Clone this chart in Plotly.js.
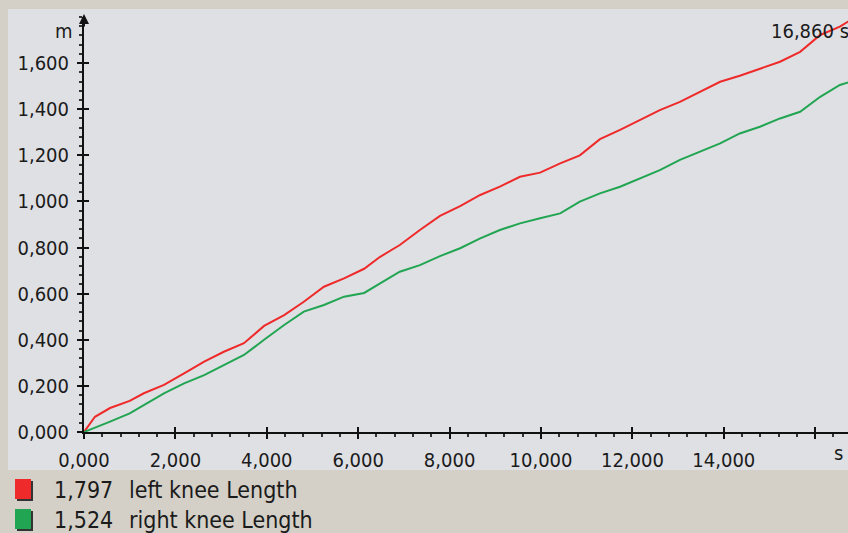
<!DOCTYPE html>
<html>
<head>
<meta charset="utf-8">
<script src="https://cdn.plot.ly/plotly-3.0.1.min.js"></script>
<style>
  html, body { margin: 0; padding: 0; background: #d4d0c8; }
  #chart { width: 848px; height: 533px; }
</style>
</head>
<body>
<div id="chart"></div>
<script>
// ---- data (time in s, length in m) ----
const timeS = [0, 0.24, 0.57, 1.0, 1.31, 1.75, 2.19, 2.63, 3.06, 3.5, 3.94, 4.38, 4.81, 5.25, 5.69, 6.13,
  6.48, 6.91, 7.35, 7.79, 8.23, 8.67, 9.10, 9.54, 9.98, 10.42, 10.85, 11.29, 11.73, 12.17, 12.60,
  13.04, 13.48, 13.92, 14.35, 14.79, 15.23, 15.67, 16.11, 16.54, 16.86];
const leftKnee = [0, 0.066, 0.104, 0.135, 0.168, 0.204, 0.254, 0.305, 0.348, 0.385, 0.460, 0.507, 0.565, 0.630, 0.666, 0.708,
  0.760, 0.811, 0.876, 0.937, 0.980, 1.028, 1.064, 1.107, 1.125, 1.165, 1.200, 1.270, 1.310, 1.353, 1.396,
  1.432, 1.476, 1.519, 1.545, 1.577, 1.606, 1.649, 1.722, 1.758, 1.797];
const rightKnee = [0, 0.018, 0.045, 0.081, 0.117, 0.168, 0.211, 0.247, 0.290, 0.334, 0.400, 0.464, 0.522, 0.551, 0.587, 0.603,
  0.645, 0.695, 0.724, 0.763, 0.797, 0.840, 0.876, 0.905, 0.927, 0.948, 0.999, 1.035, 1.064, 1.100, 1.136,
  1.180, 1.215, 1.252, 1.295, 1.324, 1.360, 1.389, 1.454, 1.505, 1.524];
const seriesNames = ["left knee Length", "right knee Length"];
const seriesFinal = ["1,797", "1,524"];
const seriesColors = ["#ee2a2a", "#22a552"];
const xTickVals = [0, 2, 4, 6, 8, 10, 12, 14, 16];
const xTickText = ["0,000", "2,000", "4,000", "6,000", "8,000", "10,000", "12,000", "14,000", ""];
const yTickVals = [0, 0.2, 0.4, 0.6, 0.8, 1.0, 1.2, 1.4, 1.6];
const xUnit = "s";
const yUnit = "m";
const endLabel = "16,860 s";

// ---- geometry ----
const W = 848, H = 533;
const M = { l: 84, r: 0, t: 17, b: 101 };
const PW = W - M.l - M.r, PH = H - M.t - M.b;
const px2x = px => (px - M.l) / PW;
const py2y = py => (H - M.b - py) / PH;

const FONT = "DejaVu Sans Condensed, DejaVu Sans, sans-serif";
const TXT = "#1b1b1b";

const traces = [
  { x: timeS, y: leftKnee, type: "scatter", mode: "lines", line: { color: seriesColors[0], width: 2 }, name: seriesNames[0], hoverinfo: "skip" },
  { x: timeS, y: rightKnee, type: "scatter", mode: "lines", line: { color: seriesColors[1], width: 2 }, name: seriesNames[1], hoverinfo: "skip" },
  { x: [], y: [], xaxis: "x2", yaxis: "y2", type: "scatter", mode: "lines", showlegend: false }
];

const xRange = [0, PW / 45.7];
const yRange = [0, 1.80];

const shapes = [
  { type: "rect", xref: "paper", yref: "paper", x0: px2x(8), x1: 1, y0: py2y(470), y1: py2y(9),
    fillcolor: "#dfe0e4", line: { width: 0 }, layer: "below" }
];
const annotations = [
  { xref: "paper", yref: "paper", x: px2x(75), y: py2y(31), xanchor: "right", yanchor: "middle",
    text: yUnit, showarrow: false, font: { family: FONT, size: 20, color: TXT } },
  { xref: "paper", yref: "paper", x: px2x(838), y: py2y(453), xanchor: "center", yanchor: "middle",
    text: xUnit, showarrow: false, font: { family: FONT, size: 20, color: TXT } },
  { xref: "paper", yref: "paper", x: px2x(769), y: py2y(31), xanchor: "left", yanchor: "middle",
    text: endLabel, showarrow: false, font: { family: FONT, size: 20, color: TXT } },
  { xref: "paper", yref: "paper", x: 0, y: py2y(14), ax: 0, ay: 14, axref: "pixel", ayref: "pixel",
    text: "", showarrow: true, arrowhead: 2, arrowsize: 1, arrowwidth: 2, arrowcolor: "#111" }
];
seriesNames.forEach((name, i) => {
  const cy = 490 + i * 30;
  shapes.push({ type: "rect", xref: "paper", yref: "paper", x0: px2x(17), x1: px2x(33), y0: py2y(cy + 11), y1: py2y(cy - 9),
    fillcolor: "#333", line: { width: 0 } });
  shapes.push({ type: "rect", xref: "paper", yref: "paper", x0: px2x(15), x1: px2x(31), y0: py2y(cy + 9), y1: py2y(cy - 11),
    fillcolor: seriesColors[i], line: { width: 0 } });
  annotations.push({ xref: "paper", yref: "paper", x: px2x(52), y: py2y(cy), xanchor: "left", yanchor: "middle",
    text: seriesFinal[i], showarrow: false, font: { family: FONT, size: 23, color: TXT } });
  annotations.push({ xref: "paper", yref: "paper", x: px2x(127), y: py2y(cy), xanchor: "left", yanchor: "middle",
    text: name, showarrow: false, font: { family: FONT, size: 23, color: TXT } });
});

const layout = {
  width: W, height: H,
  margin: M,
  paper_bgcolor: "#d4d0c8",
  plot_bgcolor: "rgba(0,0,0,0)",
  showlegend: false,
  separators: ",.",
  font: { family: FONT, size: 20, color: TXT },
  xaxis: {
    range: xRange, showgrid: false, zeroline: false,
    showline: true, linecolor: "#111", linewidth: 2,
    tickmode: "array", tickvals: xTickVals, ticktext: xTickText,
    ticks: "outside", ticklen: 5, tickwidth: 2, tickcolor: "#111",
    ticklabelstandoff: 4,
    minor: { dtick: 0.4, tick0: 0, ticks: "outside", ticklen: 3, tickwidth: 2, tickcolor: "#333" },
    tickfont: { family: FONT, size: 20, color: TXT }
  },
  yaxis: {
    range: yRange, showgrid: false, zeroline: false,
    showline: true, linecolor: "#111", linewidth: 2,
    tickmode: "array", tickvals: yTickVals, tickformat: ".3f",
    ticks: "outside", ticklen: 5, tickwidth: 2, tickcolor: "#111",
    ticklabelstandoff: 4,
    minor: { dtick: 0.04, tick0: 0, ticks: "outside", ticklen: 3, tickwidth: 2, tickcolor: "#333" },
    tickfont: { family: FONT, size: 20, color: TXT }
  },
  xaxis2: {
    overlaying: "x", matches: "x", range: xRange, showgrid: false, zeroline: false, showline: false,
    tickmode: "array", tickvals: xTickVals, showticklabels: false,
    ticks: "inside", ticklen: 5, tickwidth: 2, tickcolor: "#111", anchor: "y2", side: "bottom"
  },
  yaxis2: {
    overlaying: "y", range: yRange, showgrid: false, zeroline: false, showline: false,
    tickmode: "array", tickvals: yTickVals, showticklabels: false,
    ticks: "inside", ticklen: 5, tickwidth: 2, tickcolor: "#111", anchor: "x2", side: "left"
  },
  shapes: shapes,
  annotations: annotations
};

Plotly.newPlot("chart", traces, layout, { staticPlot: true, displayModeBar: false });
</script>
</body>
</html>
